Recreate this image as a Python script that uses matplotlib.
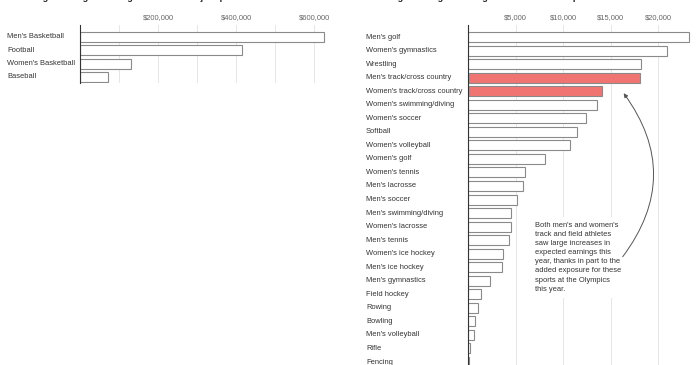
# -*- coding: utf-8 -*-
import matplotlib
matplotlib.use('Agg')
import matplotlib.pyplot as plt
import matplotlib.transforms as mtransforms
from matplotlib.patches import FancyArrowPatch

plt.rcParams['font.family'] = ['Liberation Sans', 'DejaVu Sans']

# data
major_sports = ["Men's Basketball", "Football", "Women's Basketball", "Baseball"]
major_earnings = [625000, 415000, 131000, 72000]

other_sports = ["Men's golf", "Women's gymnastics", "Wrestling",
                "Men's track/cross country", "Women's track/cross country",
                "Women's swimming/diving", "Women's soccer", "Softball",
                "Women's volleyball", "Women's golf", "Women's tennis",
                "Men's lacrosse", "Men's soccer", "Men's swimming/diving",
                "Women's lacrosse", "Men's tennis", "Women's ice hockey",
                "Men's ice hockey", "Men's gymnastics", "Field hockey", "Rowing",
                "Bowling", "Men's volleyball", "Rifle", "Fencing"]
other_earnings = [23170, 20890, 18200, 18030, 14080, 13550, 12370, 11500,
                  10690, 8140, 5940, 5800, 5100, 4540, 4470, 4270, 3640, 3620,
                  2340, 1330, 1080, 770, 600, 240, 150]
highlight = ["Men's track/cross country", "Women's track/cross country"]

major_ticks = [200000, 400000, 600000]
major_grid = [100000, 300000, 500000]
other_ticks = [5000, 10000, 15000, 20000]

note = ("Both men's and women's\ntrack and field athletes\nsaw large increases in\n"
        "expected earnings this\nyear, thanks in part to the\nadded exposure for these\n"
        "sports at the Olympics\nthis year.")

W, H = 696, 365
fig = plt.figure(figsize=(W / 100, H / 100), dpi=100)


def px(x0, y0, x1, y1):
    return [x0 / W, 1 - y1 / H, (x1 - x0) / W, (y1 - y0) / H]


def style(ax, ticks, minor, fmt):
    ax.set_xticks(ticks)
    ax.set_xticks(minor, minor=True)
    ax.set_xticklabels([fmt(t) for t in ticks])
    ax.xaxis.tick_top()
    ax.tick_params(axis='x', which='both', length=0, pad=3, labelsize=5.4,
                   labelcolor='#666666')
    ax.set_yticks([])
    for s in ['top', 'right', 'bottom']:
        ax.spines[s].set_visible(False)
    ax.spines['left'].set_color('#333333')
    ax.spines['left'].set_linewidth(0.8)
    ax.grid(axis='x', which='both', color='#e6e6e6', linewidth=0.7)
    ax.set_axisbelow(True)


def labels(ax, names, xpix):
    tr = mtransforms.blended_transform_factory(fig.transFigure, ax.transData)
    for i, n in enumerate(names):
        fig.text(xpix / W, i, n, transform=tr, ha='left', va='center',
                 fontsize=5.4, color='#333333')


# left panel
ax1 = fig.add_axes(px(80, 25, 340, 83))
ax1.barh(range(len(major_sports)), major_earnings, height=0.74,
         color='white', edgecolor='#8a8a8a', linewidth=0.8)
ax1.set_xlim(0, 260 / 78 * 200000)
ax1.set_ylim(3.45, -0.9)
style(ax1, major_ticks, major_grid, lambda t: '${:,.0f}'.format(t))
labels(ax1, major_sports, 7)

# right panel
ax2 = fig.add_axes(px(468, 25, 694, 365))
colors = ['#f07472' if s in highlight else 'white' for s in other_sports]
ax2.barh(range(len(other_sports)), other_earnings, height=0.74,
         color=colors, edgecolor='#8a8a8a', linewidth=0.8)
ax2.set_xlim(0, 226 / 47.6 * 5000)
ax2.set_ylim(24.22, -0.89)
style(ax2, other_ticks, [], lambda t: '${:,.0f}'.format(t))
labels(ax2, other_sports, 366)

# annotation
fig.text(535 / W, 1 - 222 / H, note, ha='left', va='top', fontsize=5.4,
         color='#333333', linespacing=1.42,
         bbox=dict(boxstyle='square,pad=0.7', facecolor='white', edgecolor='none'))
arrow = FancyArrowPatch((621 / W, 1 - 259 / H), (622 / W, 1 - 91 / H),
                        transform=fig.transFigure, arrowstyle='-|>',
                        color='#555555', lw=0.7, mutation_scale=6,
                        connectionstyle='arc3,rad=0.38', zorder=5)
fig.add_artist(arrow)

# titles, cut off at the top
fig.text(18 / W, 1.0, 'Average earnings of college athletes in major sports',
         ha='left', va='baseline', fontsize=6.5, fontweight='bold', color='#222222')
fig.text(373 / W, 1.0, 'Average earnings of college athletes in other sports',
         ha='left', va='baseline', fontsize=6.5, fontweight='bold', color='#222222')

fig.savefig('out.png', dpi=100)
